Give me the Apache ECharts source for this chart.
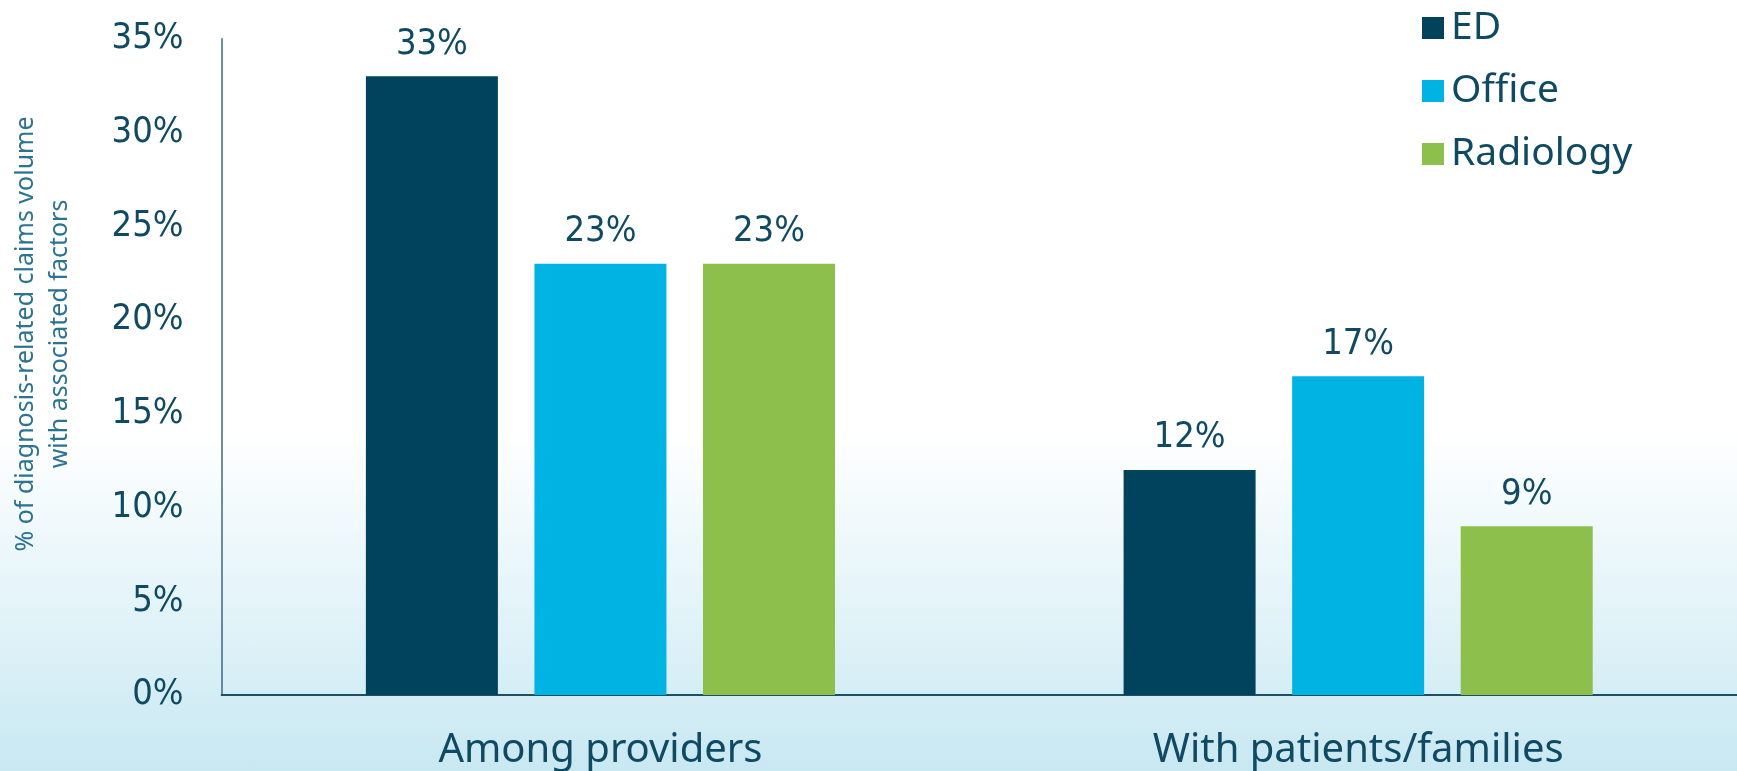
<!DOCTYPE html>
<html>
<head>
<meta charset="utf-8">
<script src="https://cdn.jsdelivr.net/npm/echarts@6/dist/echarts.min.js"></script>
<style>
  html, body { margin: 0; padding: 0; }
  #chart {
    width: 1737px; height: 771px;
    background: linear-gradient(to bottom, #ffffff 0%, #ffffff 56%, #e4f4f9 78%, #c8e8f2 100%);
  }
</style>
</head>
<body>
<div id="chart"></div>
<script>
const categories = ['Among providers', 'With patients/families'];
const seriesNames = ['ED', 'Office', 'Radiology'];
const edValues = [33, 12];
const officeValues = [23, 17];
const radiologyValues = [23, 9];
const yTicks = [0, 5, 10, 15, 20, 25, 30, 35];
const yTitle = '% of diagnosis-related claims volume\nwith associated factors';

const colors = ['#01435c', '#00b3e3', '#8cbf4b'];
const textColor = '#0f4a62';
const numFont = '"DejaVu Sans Condensed", "Noto Sans", sans-serif';
const txtFont = '"Noto Sans", "Open Sans", sans-serif';

const chart = echarts.init(document.getElementById('chart'), null, { renderer: 'canvas' });

function barSeries(name, data, color) {
  return {
    name: name,
    type: 'bar',
    data: data,
    barWidth: 132,
    barGap: '27.7%',
    itemStyle: { color: color },
    label: {
      show: true,
      position: 'top',
      distance: 14,
      formatter: '{c}%',
      color: textColor,
      fontFamily: numFont,
      fontSize: 36
    }
  };
}

chart.setOption({
  backgroundColor: 'transparent',
  animation: false,
  color: colors,
  grid: { left: 221.6, right: 0, top: 38.8, bottom: 75.3, containLabel: false },
  legend: {
    orient: 'vertical',
    left: 1417,
    top: 3,
    itemWidth: 22,
    itemHeight: 22,
    itemGap: 23,
    icon: 'rect',
    data: seriesNames,
    textStyle: {
      color: textColor,
      fontFamily: txtFont,
      fontSize: 39,
      lineHeight: 40,
      padding: [0, 0, 0, 2]
    }
  },
  graphic: [{
    type: 'text',
    x: 43,
    y: 334,
    rotation: Math.PI / 2,
    style: {
      text: yTitle,
      fill: '#2b7390',
      font: '25px "Noto Sans", sans-serif',
      lineHeight: 34,
      align: 'center',
      verticalAlign: 'middle'
    }
  }],
  xAxis: {
    type: 'category',
    data: categories,
    axisLine: { show: true, lineStyle: { color: '#1d4f66', width: 2 } },
    axisTick: { show: false },
    axisLabel: {
      color: textColor,
      fontFamily: txtFont,
      fontSize: 40,
      margin: 36
    }
  },
  yAxis: {
    type: 'value',
    min: yTicks[0],
    max: yTicks[yTicks.length - 1],
    interval: yTicks[1] - yTicks[0],
    axisLine: { show: true, lineStyle: { color: '#3a6b80', width: 1.5 } },
    axisTick: { show: false },
    splitLine: { show: false },
    axisLabel: {
      color: textColor,
      fontFamily: numFont,
      fontSize: 36,
      margin: 38,
      formatter: '{value}%'
    }
  },
  series: [
    barSeries(seriesNames[0], edValues, colors[0]),
    barSeries(seriesNames[1], officeValues, colors[1]),
    barSeries(seriesNames[2], radiologyValues, colors[2])
  ]
});
</script>
</body>
</html>
